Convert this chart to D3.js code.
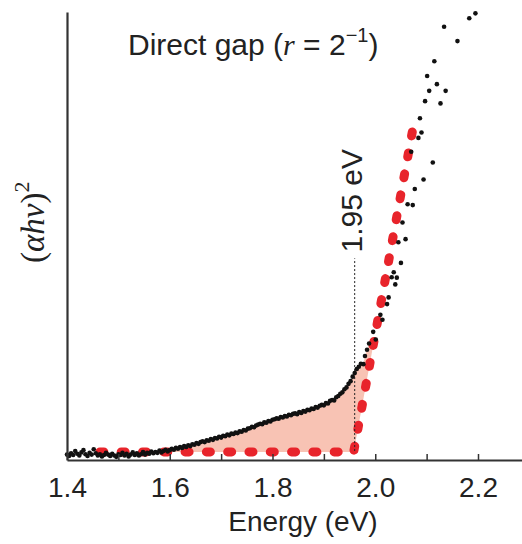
<!DOCTYPE html>
<html><head><meta charset="utf-8">
<script src="https://cdn.jsdelivr.net/npm/d3@7"></script>
<style>body{margin:0;background:#fff} svg{display:block;background:#fff}</style>
</head><body><svg id="c" width="522" height="544"></svg>
<script>
// ---- data ----
const xTickValues = [1.4,1.5,1.6,1.7,1.8,1.9,2.0,2.1,2.2];
const xTickLabels = ["1.4","1.6","1.8","2.0","2.2"];

// dense low-energy absorption edge data (energy eV, (αhν)^2 arb. units)
const edgeEnergy = [
1.400,1.404,1.408,1.412,1.416,1.420,1.424,1.428,1.432,1.436,1.440,1.444,1.448,1.452,1.456,1.460,1.464,1.468,1.472,1.476,
1.480,1.484,1.488,1.492,1.496,1.500,1.504,1.508,1.512,1.516,1.520,1.524,1.528,1.532,1.536,1.540,1.544,1.548,1.552,1.556,
1.560,1.564,1.568,1.572,1.576,1.580,1.584,1.588,1.592,1.596,1.600,1.604,1.608,1.612,1.616,1.620,1.624,1.628,1.632,1.636,
1.640,1.644,1.648,1.652,1.656,1.660,1.664,1.668,1.672,1.676,1.680,1.684,1.688,1.692,1.696,1.700,1.704,1.708,1.712,1.716,
1.720,1.724,1.728,1.732,1.736,1.740,1.744,1.748,1.752,1.756,1.760,1.764,1.768,1.772,1.776,1.780,1.784,1.788,1.792,1.796,
1.800,1.804,1.808,1.812,1.816,1.820,1.824,1.828,1.832,1.836,1.840,1.844,1.848,1.852,1.856,1.860,1.864,1.868,1.872,1.876,
1.880,1.884,1.888,1.892,1.896,1.900,1.904,1.908,1.912,1.916,1.920,1.924,1.928,1.932,1.936,1.940,1.944,1.948,1.952,1.956,
1.960,1.964,1.968,1.972];
const edgeSignal = [
1.2,0.9,1.5,1.1,2.0,1.4,1.0,1.7,2.2,1.3,0.9,1.6,1.2,2.4,1.5,1.0,1.3,0.8,1.1,1.6,
1.2,0.9,1.4,1.0,0.7,1.3,1.1,1.6,1.0,1.4,0.8,1.2,1.7,1.1,1.5,1.0,1.3,1.8,1.2,1.6,
1.4,1.9,1.5,1.8,1.6,2.1,1.7,2.0,2.3,1.9,2.2,2.5,2.3,2.7,2.5,2.9,2.7,3.1,2.9,3.3,
3.1,3.5,3.4,3.8,3.6,4.0,4.2,4.0,4.4,4.3,4.7,4.5,4.9,4.8,5.2,5.0,5.4,5.3,5.7,5.5,
5.9,5.8,6.1,6.0,6.4,6.3,6.7,6.6,7.0,7.1,7.4,7.3,7.7,7.9,8.1,8.0,8.4,8.3,8.7,8.6,
9.0,9.1,9.3,9.2,9.6,9.5,9.8,9.7,10.1,10.0,10.3,10.4,10.2,10.7,10.5,10.9,10.8,11.2,11.1,11.5,
11.4,11.8,11.7,12.1,12.3,12.2,12.7,12.6,13.2,13.4,13.3,14.0,14.3,14.8,15.1,15.8,16.2,17.0,17.6,18.6,
19.4,20.3,20.8,21.5];

// sparse high-energy data along the steep rise
const riseEnergy = [1.977,1.980,1.984,1.988,2.001,1.996,2.010,2.014,2.023,2.026,2.032,2.036,2.042,2.039,2.050,
2.045,2.059,2.053,2.063,2.073,2.077,2.094,2.112,2.070,2.084,2.090,2.087,2.097,2.127,2.105,2.137,2.101,2.120,
2.115,2.160,2.134,2.183,2.195];
const riseSignal = [21.4,23.2,24.6,26.0,26.9,28.6,32.4,31.3,34.8,36.3,40.8,41.9,40.7,39.2,44.0,
48.6,49.3,53.0,57.1,56.9,60.5,62.6,66.4,68.8,71.9,73.1,76.3,80.1,79.6,82.4,82.4,85.7,83.9,
89.0,93.5,96.7,98.6,99.7];

// red dashed fit: baseline then linear extrapolation (x-intercept ≈ 1.96 eV)
const fitEnergy = [1.464, 1.958, 2.077];
const fitSignal = [1.8, 1.8, 76.3];

// marker for the gap value
const gapEnergy = [1.96, 1.96];
const gapSignal = [2.0, 45.0];
const gapLabel = "1.95 eV";

// ---- drawing ----
const svg = d3.select("#c");
const W = 522, H = 544;
const x = d3.scaleLinear().domain([1.4, 2.2]).range([67, 478]);
const y = d3.scaleLinear().domain([0, 100]).range([460, 12]);
const xEnd = x.invert(W);
const SANS = "Liberation Sans, Arial, Helvetica, sans-serif";
const SERIF = "Liberation Serif, Times New Roman, serif";

// pink shaded area between data, baseline and fit line
const shadeTop = edgeEnergy.map((e,i)=>[e, edgeSignal[i]]).filter(d=>d[0]>=1.60)
  .concat([0,1,2,3].map(i=>[riseEnergy[i], riseSignal[i]]));
const fitAt = v => fitEnergy[1] + (v - fitSignal[1])/(fitSignal[2]-fitSignal[1])*(fitEnergy[2]-fitEnergy[1]);
const shade = shadeTop.concat([[fitAt(27), 27],[fitEnergy[1], fitSignal[1]],[1.60, fitSignal[1]]]);
svg.append("path")
  .attr("d", d3.line().x(d=>x(d[0])).y(d=>y(d[1]))(shade) + "Z")
  .attr("fill", "#f8c3b4").attr("stroke", "none");

// red dashed fit line
svg.append("path")
  .attr("d", d3.line().x(d=>x(d[0])).y(d=>y(d[1]))(fitEnergy.map((e,i)=>[e, fitSignal[i]])))
  .attr("fill","none").attr("stroke","#e8242b").attr("stroke-width",9)
  .attr("stroke-linecap","round").attr("stroke-linejoin","round")
  .attr("stroke-dasharray","4 17.3");

// dotted gap marker
svg.append("line")
  .attr("x1", x(gapEnergy[0])).attr("x2", x(gapEnergy[1]))
  .attr("y1", y(gapSignal[0])).attr("y2", y(gapSignal[1]))
  .attr("stroke","#222").attr("stroke-width",1).attr("stroke-dasharray","2 2");
svg.append("text")
  .attr("transform", `translate(${x(gapEnergy[1])+7},${y(gapSignal[1])-6}) rotate(-90)`)
  .attr("font-family",SANS)
  .attr("font-size",30).attr("fill","#222").text(gapLabel);

// data points
const pts = edgeEnergy.map((e,i)=>[e, edgeSignal[i]]).concat(riseEnergy.map((e,i)=>[e, riseSignal[i]]));
svg.append("g").selectAll("circle").data(pts).join("circle")
  .attr("cx", d=>x(d[0])).attr("cy", d=>y(d[1])).attr("r", 2.3).attr("fill","#111");

// axes
const xAxisScale = d3.scaleLinear().domain([1.4, xEnd]).range([67, W]);
const xAxis = d3.axisBottom(xAxisScale).tickValues(xTickValues)
  .tickSizeInner(-6).tickSizeOuter(0).tickPadding(17)
  .tickFormat(d => xTickLabels.includes(d.toFixed(1)) ? d.toFixed(1) : "");
const gx = svg.append("g").attr("transform", `translate(0,${y(0)})`).call(xAxis);
gx.select(".domain").attr("stroke","#333").attr("stroke-width",2);
gx.selectAll(".tick line").attr("stroke","#333").attr("stroke-width",1.5);
gx.selectAll(".tick text").attr("font-family",SANS)
  .attr("font-size",28).attr("fill","#222");

const yAxis = d3.axisLeft(y).tickValues([]).tickSizeOuter(0);
const gy = svg.append("g").attr("transform", `translate(67,0)`).call(yAxis);
gy.select(".domain").attr("stroke","#333").attr("stroke-width",2.2);

// axis titles
svg.append("text").attr("x", 303).attr("y", 531).attr("text-anchor","middle")
  .attr("font-family",SANS)
  .attr("font-size",28).attr("fill","#222").text("Energy (eV)");

const yl = svg.append("text").attr("transform","translate(44,263) rotate(-90)")
  .attr("font-family",SERIF)
  .attr("font-size",33).attr("fill","#222");
yl.append("tspan").text("(");
yl.append("tspan").attr("font-style","italic").text("αhν");
yl.append("tspan").text(")");
yl.append("tspan").attr("font-size",22).attr("dy",-15).text("2");

// title
const t = svg.append("text").attr("x",128).attr("y",55)
  .attr("font-family",SANS)
  .attr("font-size",30).attr("fill","#222");
t.append("tspan").text("Direct gap (");
t.append("tspan").attr("font-family",SERIF).attr("font-style","italic").text("r");
t.append("tspan").text(" = 2");
t.append("tspan").attr("font-size",20).attr("dy",-13).text("−1");
t.append("tspan").attr("dy",13).text(")");
</script></body></html>
